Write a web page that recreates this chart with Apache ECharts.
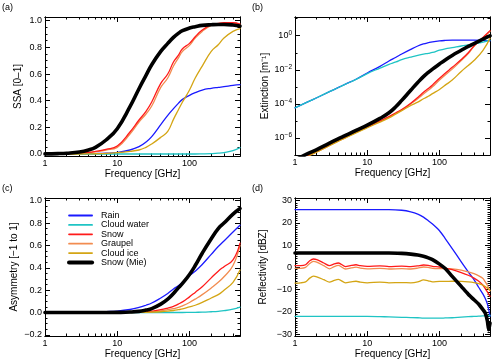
<!DOCTYPE html>
<html>
<head>
<meta charset="utf-8">
<script src="https://cdn.jsdelivr.net/npm/echarts@6/dist/echarts.min.js"></script>
<style>
  html, body { margin: 0; padding: 0; background: #fff; }
  #chart { width: 500px; height: 363px; }
</style>
</head>
<body>
<div id="chart"></div>
<script>
const names = ["Rain", "Cloud water", "Snow", "Graupel", "Cloud ice", "Snow (Mie)"]
const colors = ["#1a1aff", "#1fc4c4", "#ff1a1a", "#f28c50", "#d4a514", "#000000"]
const widths = [1.3, 1.3, 1.3, 1.3, 1.3, 3.6]

// frequencies [GHz] for panels a, b, c
const freq = [1, 1.5, 2, 3, 4, 5, 7, 10, 15, 20, 25, 30, 40, 50, 60, 70, 80, 100, 120, 150, 200, 250, 300, 400, 500]

// (a) single scattering albedo
const ssaRain = [0, 0, 0, 0.001, 0.002, 0.003, 0.006, 0.012, 0.03, 0.055, 0.09, 0.13, 0.22, 0.29, 0.34, 0.38, 0.41, 0.44, 0.46, 0.48, 0.493, 0.5, 0.505, 0.515, 0.52]
const ssaCloud = [0, 0, 0, 0, 0, 0, 0, 0, 0, 0, 0, 0, 0, 0, 0, 0, 0, 0, 0, 0.001, 0.003, 0.006, 0.011, 0.025, 0.048]
const ssaSnow = [0, 0, 0.002, 0.006, 0.012, 0.02, 0.035, 0.06, 0.165, 0.255, 0.32, 0.39, 0.53, 0.6, 0.69, 0.74, 0.79, 0.83, 0.88, 0.93, 0.97, 0.98, 0.985, 0.985, 0.975]
const ssaGraupel = [0, 0, 0.002, 0.005, 0.01, 0.017, 0.03, 0.05, 0.15, 0.24, 0.3, 0.36, 0.5, 0.57, 0.66, 0.72, 0.77, 0.815, 0.87, 0.92, 0.965, 0.978, 0.982, 0.982, 0.972]
const ssaIce = [0, 0, 0, 0, 0.001, 0.002, 0.004, 0.01, 0.02, 0.03, 0.05, 0.075, 0.125, 0.17, 0.26, 0.33, 0.39, 0.48, 0.57, 0.66, 0.77, 0.82, 0.87, 0.92, 0.94]
const ssaMie = [0.001, 0.003, 0.006, 0.015, 0.03, 0.05, 0.105, 0.19, 0.355, 0.49, 0.59, 0.67, 0.77, 0.83, 0.875, 0.905, 0.925, 0.945, 0.955, 0.965, 0.97, 0.972, 0.972, 0.968, 0.96]

// (b) extinction [1/m]
const extRain = [5.9e-5, 1.3e-4, 2.3e-4, 5.2e-4, 9.3e-4, 1.45e-3, 2.8e-3, 6.5e-3, 1.6e-2, 3.3e-2, 5.5e-2, 8.5e-2, 0.16, 0.25, 0.33, 0.39, 0.44, 0.5, 0.53, 0.55, 0.56, 0.56, 0.56, 0.54, 0.5]
const extCloud = [5.9e-5, 1.3e-4, 2.3e-4, 5.2e-4, 9.2e-4, 1.43e-3, 2.75e-3, 6e-3, 1.26e-2, 2.1e-2, 2.9e-2, 4e-2, 5.6e-2, 7.1e-2, 8.3e-2, 9.3e-2, 0.104, 0.141, 0.17, 0.2, 0.25, 0.29, 0.33, 0.42, 0.55]
const extSnow = [3.5e-8, 9e-8, 1.6e-7, 3.8e-7, 7e-7, 1.1e-6, 2.2e-6, 4.5e-6, 1e-5, 1.8e-5, 3e-5, 4.6e-5, 1.1e-4, 2.4e-4, 4.8e-4, 8e-4, 1.3e-3, 3.2e-3, 6.3e-3, 1.4e-2, 4e-2, 0.1, 0.25, 0.8, 2.0]
const extGraupel = [3.3e-8, 8.5e-8, 1.5e-7, 3.6e-7, 6.7e-7, 1.05e-6, 2.1e-6, 4.3e-6, 9.5e-6, 1.7e-5, 2.8e-5, 4.2e-5, 1e-4, 2e-4, 3.8e-4, 6.3e-4, 1e-3, 2.5e-3, 5e-3, 1.1e-2, 3.5e-2, 9e-2, 0.24, 0.76, 1.8]
const extIce = [3e-8, 8e-8, 1.5e-7, 3.5e-7, 6.5e-7, 1e-6, 2e-6, 4e-6, 8.5e-6, 1.5e-5, 2.6e-5, 4e-5, 8e-5, 1.26e-4, 2e-4, 2.8e-4, 4e-4, 7e-4, 1.26e-3, 2.5e-3, 8e-3, 1.8e-2, 3.5e-2, 0.14, 0.7]
const extMie = [5e-8, 1.2e-7, 2.1e-7, 5e-7, 9e-7, 1.4e-6, 2.8e-6, 5.6e-6, 1.4e-5, 3e-5, 7e-5, 1.6e-4, 6.3e-4, 1.8e-3, 4e-3, 7e-3, 1.1e-2, 2.2e-2, 3.8e-2, 7e-2, 0.14, 0.24, 0.35, 0.63, 1.0]

// (c) asymmetry parameter
const asyRain = [0, 0, 0.001, 0.002, 0.003, 0.004, 0.008, 0.013, 0.027, 0.045, 0.065, 0.085, 0.13, 0.17, 0.21, 0.24, 0.27, 0.33, 0.37, 0.43, 0.52, 0.59, 0.64, 0.72, 0.78]
const asyCloud = [0, 0, 0, 0, 0, 0, 0, 0, 0, 0, 0, 0, 0, 0, 0, 0, 0, 0.001, 0.002, 0.003, 0.007, 0.011, 0.016, 0.03, 0.048]
const asySnow = [0, 0, 0, 0, 0, 0, 0, 0.001, 0.002, 0.004, 0.007, 0.012, 0.025, 0.04, 0.055, 0.075, 0.095, 0.14, 0.18, 0.23, 0.31, 0.37, 0.41, 0.47, 0.62]
const asyGraupel = [0, 0, 0, 0, 0, 0, 0, 0, 0.001, 0.002, 0.004, 0.006, 0.015, 0.025, 0.035, 0.045, 0.06, 0.09, 0.12, 0.16, 0.22, 0.27, 0.32, 0.42, 0.6]
const asyIce = [0, 0, 0, 0, 0, 0, 0, 0, 0, 0.001, 0.002, 0.003, 0.007, 0.012, 0.018, 0.025, 0.032, 0.05, 0.065, 0.09, 0.13, 0.16, 0.2, 0.27, 0.38]
const asyMie = [0, 0, 0, 0, 0, 0, 0, 0.001, 0.004, 0.01, 0.022, 0.035, 0.075, 0.12, 0.17, 0.22, 0.26, 0.34, 0.42, 0.53, 0.66, 0.75, 0.8, 0.88, 0.93]

// (d) reflectivity [dBZ]
const freqZ = [1, 1.2, 1.4, 1.6, 1.8, 2, 2.5, 3, 3.5, 4, 5, 6, 7, 8, 10, 15, 20, 30, 40, 50, 60, 70, 80, 100, 120, 150, 200, 250, 300, 350, 400, 430, 460, 480, 500]
const zRain = [26, 26, 26, 26, 26, 26, 26, 26, 26, 26, 26, 26, 26, 26, 26, 26, 26, 25.7, 25, 24, 22.6, 21, 19.5, 16.5, 13, 8.5, 2.5, -2, -5.5, -9, -12, -14, -16.5, -19, -22]
const zCloud = [-22, -22, -22, -22, -22, -22, -22, -22, -22, -22, -22, -22, -22, -22, -22, -22.1, -22.2, -22.4, -22.5, -22.6, -22.8, -22.8, -22.8, -22.8, -22.7, -22.6, -22.3, -22.1, -22, -21.9, -21.8, -21.8, -21.7, -21.6, -21.6]
const zSnow = [0.8, 0.8, 1.2, 3.0, 3.8, 3.5, 2.0, 0.8, 1.6, 2.0, 0.4, 0.9, 1.2, 0.8, 0.5, 0.7, 0.4, 0.6, 0.4, 0.7, 1.1, 0.9, 0.5, 0.2, -0.3, -1.0, -2.3, -3.5, -4.8, -6.2, -8, -9.5, -11, -12, -13]
const zGraupel = [-0.4, -0.4, 0, 1.8, 2.7, 2.4, 0.8, -0.6, 0.4, 0.9, -0.7, -0.2, 0.1, -0.3, -0.6, -0.4, -0.7, -0.5, -0.7, -0.3, 0.2, 0, -0.4, -0.5, -0.5, -0.6, -1.2, -2, -2.8, -3.8, -5, -6.5, -8, -9.3, -10.5]
const zIce = [-7, -6.9, -6.5, -4.8, -3.9, -4.2, -5.5, -6.6, -5.8, -5.4, -6.9, -6.5, -6.2, -6.6, -6.9, -6.6, -6.9, -6.8, -6.9, -6.5, -5.6, -6.0, -6.5, -6.3, -6.3, -6.2, -6.3, -6.5, -6.8, -7.3, -8, -8.6, -9.3, -9.8, -10.3]
const zMie = [6.5, 6.5, 6.5, 6.5, 6.5, 6.5, 6.5, 6.5, 6.5, 6.5, 6.5, 6.5, 6.5, 6.5, 6.5, 6.5, 6.5, 6.3, 6, 5.6, 5, 4.3, 3.5, 1.5, -0.5, -4, -8.5, -12, -14.5, -16.5, -19, -20.5, -24, -28, -25]

// tick labels
const xMajor = [1, 10, 100]
const xMinor = [2, 3, 4, 5, 6, 7, 8, 9, 20, 30, 40, 50, 60, 70, 80, 90, 200, 300, 400, 500]
const ssaTicks = [0, 0.2, 0.4, 0.6, 0.8, 1.0]
const extTicks = [1e-6, 1e-4, 1e-2, 1]
const extMinor = [1e-7, 1e-5, 1e-3, 1e-1, 10]
const asyTicks = [-0.2, 0, 0.2, 0.4, 0.6, 0.8, 1.0]
const zTicks = [-30, -20, -10, 0, 10, 20, 30]

const X_MAX = 500
const FONT = "Liberation Sans, Arial, Helvetica, sans-serif"
const txt = {color: "#000", fontSize: 9, fontFamily: FONT}
const axLine = {show: true, onZero: false, lineStyle: {color: "#000", width: 1}}
const tickStyle = {color: "#000", width: 1}

const grids = [
  {left: 45, top: 17, width: 195, height: 139},
  {left: 295, top: 17, width: 195, height: 138},
  {left: 45, top: 198, width: 195, height: 138},
  {left: 295, top: 198, width: 195, height: 138}
]

const minorSteps = (lo, hi, step) => {
  const out = []
  for (let v = lo; v <= hi + 1e-9; v += step) out.push(+v.toFixed(4))
  return out
}

const makeX = (g) => {
  const base = {type: "log", logBase: 10, gridIndex: g, min: 1, max: X_MAX, splitLine: {show: false}, axisLine: axLine}
  return [
    {...base, position: "bottom",
      axisTick: {inside: true, length: 5, customValues: xMajor, lineStyle: tickStyle},
      axisLabel: {customValues: xMajor, margin: 3, ...txt, formatter: v => String(Math.round(v))},
      name: "Frequency [GHz]", nameLocation: "middle", nameGap: 13,
      nameTextStyle: {...txt, fontSize: 10}},
    {...base, position: "bottom", axisTick: {inside: true, length: 2.5, customValues: xMinor, lineStyle: tickStyle}, axisLabel: {show: false}},
    {...base, position: "top", axisTick: {inside: true, length: 5, customValues: xMajor, lineStyle: tickStyle}, axisLabel: {show: false}},
    {...base, position: "top", axisTick: {inside: true, length: 2.5, customValues: xMinor, lineStyle: tickStyle}, axisLabel: {show: false}}
  ]
}

const makeY = (g, opt) => {
  const base = {type: opt.type || "value", gridIndex: g, min: opt.min, max: opt.max, splitLine: {show: false}, axisLine: axLine}
  if (opt.type === "log") base.logBase = 10
  return [
    {...base, position: "left",
      axisTick: {inside: true, length: 5, customValues: opt.ticks, lineStyle: tickStyle},
      axisLabel: {customValues: opt.ticks, margin: 3, ...txt, formatter: opt.fmt, rich: opt.rich},
      name: opt.name, nameLocation: "middle", nameGap: opt.gap,
      nameTextStyle: {...txt, fontSize: 10}},
    {...base, position: "left", axisTick: {inside: true, length: 2.5, customValues: opt.minor, lineStyle: tickStyle}, axisLabel: {show: false}},
    {...base, position: "right", axisTick: {inside: true, length: 5, customValues: opt.ticks, lineStyle: tickStyle}, axisLabel: {show: false}},
    {...base, position: "right", axisTick: {inside: true, length: 2.5, customValues: opt.minor, lineStyle: tickStyle}, axisLabel: {show: false}}
  ]
}

const minus = s => s.replace("-", "\u2212")

const xAxes = [0, 1, 2, 3].flatMap(makeX)
const yAxes = [
  ...makeY(0, {min: -0.015, max: 1.028, ticks: ssaTicks, minor: minorSteps(0, 1, 0.05),
    fmt: v => v.toFixed(1), name: "SSA [0\u20131]", gap: 22}),
  ...makeY(1, {type: "log", min: 1e-7, max: 12.6, ticks: extTicks, minor: extMinor,
    fmt: v => "10{s|" + minus(String(Math.round(Math.log10(v)))) + "}",
    rich: {s: {fontSize: 6.5, fontFamily: FONT, color: "#000", padding: [0, 0, 6, 0]}},
    name: "Extinction [m\u207b\u00b9]", gap: 21}),
  ...makeY(2, {min: -0.21, max: 1.024, ticks: asyTicks, minor: minorSteps(-0.2, 1, 0.05),
    fmt: v => minus(v.toFixed(1)), name: "Asymmetry [\u22121 to 1]", gap: 26}),
  ...makeY(3, {min: -30.8, max: 31.2, ticks: zTicks, minor: minorSteps(-30, 30, 1),
    fmt: v => minus(String(v)), name: "Reflectivity [dBZ]", gap: 27})
]

const panels = [
  {x: freq, ys: [ssaRain, ssaCloud, ssaSnow, ssaGraupel, ssaIce, ssaMie]},
  {x: freq, ys: [extRain, extCloud, extSnow, extGraupel, extIce, extMie]},
  {x: freq, ys: [asyRain, asyCloud, asySnow, asyGraupel, asyIce, asyMie]},
  {x: freqZ, ys: [zRain, zCloud, zSnow, zGraupel, zIce, zMie]}
]

const drawOrder = [0, 1, 3, 2, 4, 5]
const series = []
panels.forEach((p, g) => {
  drawOrder.forEach(k => {
    series.push({
      name: names[k], type: "line", xAxisIndex: g * 4, yAxisIndex: g * 4,
      data: p.x.map((f, i) => [f, p.ys[k][i]]),
      symbol: "none", showSymbol: false, smooth: g === 3 ? 0.25 : 0.45,
      clip: true, animation: false,
      lineStyle: {color: colors[k], width: widths[k], join: "round", cap: "round"},
      itemStyle: {color: colors[k]}
    })
  })
})

const chart = echarts.init(document.getElementById("chart"), null, {renderer: "canvas"})
chart.setOption({
  backgroundColor: "#fff",
  animation: false,
  textStyle: {fontFamily: FONT},
  grid: grids,
  xAxis: xAxes,
  yAxis: yAxes,
  legend: {
    orient: "vertical", left: 62, top: 206, itemWidth: 23, itemHeight: 8, itemGap: 0.4,
    selectedMode: false,
    textStyle: {...txt, padding: [0, 0, 0, 4]},
    itemStyle: {opacity: 0},
    data: names.map((n, k) => ({name: n, lineStyle: {color: colors[k], width: widths[k] + 0.5}}))
  },
  graphic: [
    {type: "text", left: 2, top: 3, style: {text: "(a)", fill: "#000", font: "9px " + FONT}},
    {type: "text", left: 252, top: 3, style: {text: "(b)", fill: "#000", font: "9px " + FONT}},
    {type: "text", left: 2, top: 184, style: {text: "(c)", fill: "#000", font: "9px " + FONT}},
    {type: "text", left: 252, top: 184, style: {text: "(d)", fill: "#000", font: "9px " + FONT}}
  ],
  series
})
</script>
</body>
</html>
